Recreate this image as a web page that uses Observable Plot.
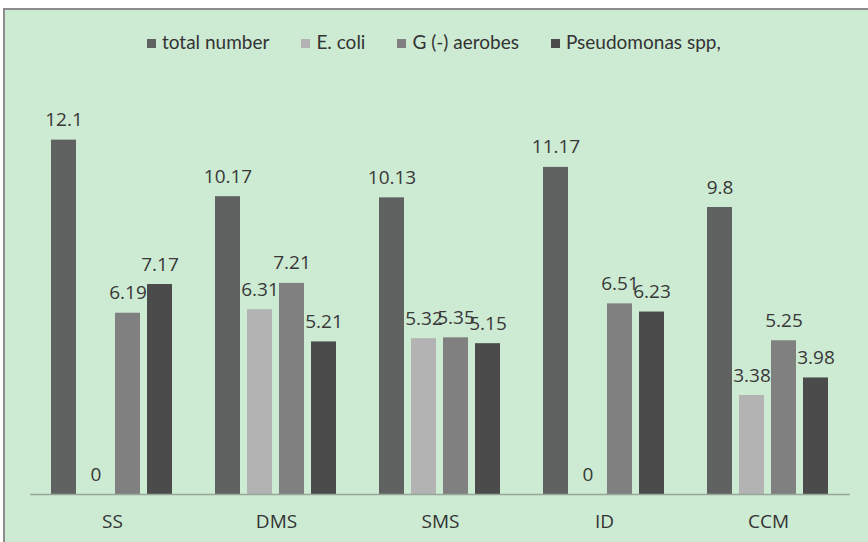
<!DOCTYPE html>
<html>
<head>
<meta charset="utf-8">
<script src="https://cdn.jsdelivr.net/npm/d3@7"></script>
<script src="https://cdn.jsdelivr.net/npm/@observablehq/plot@0.6"></script>
<style>
  html, body { margin: 0; padding: 0; background: #ffffff; }
  body { width: 868px; height: 542px; position: relative; overflow: hidden; }
  #frame { position: absolute; left: 3px; top: 8px; width: 865px; height: 534px;
    background: #cdead3; border-left: 2px solid #8c8c8c; border-top: 2px solid #8c8c8c; box-sizing: border-box; }
  #legend { position: absolute; left: 147px; top: 32px; display: flex; gap: 32px;
    font-family: Lato, "Open Sans", sans-serif; font-size: 19px; line-height: 20px; color: #333; white-space: nowrap; }
  #legend .item { display: flex; align-items: center; gap: 6px; }
  #legend .sw { width: 9px; height: 9px; display: inline-block; margin-top: 3px; }
  #chart { position: absolute; left: 0; top: 50px; }
</style>
</head>
<body>
<div id="frame"></div>
<div id="legend"></div>
<div id="chart"></div>
<script>
const categories = ["SS", "DMS", "SMS", "ID", "CCM"];
const series = ["total number", "E. coli", "G (-) aerobes", "Pseudomonas spp,"];
const totalNumber = [12.1, 10.17, 10.13, 11.17, 9.8];
const eColi = [0, 6.31, 5.32, 0, 3.38];
const gAerobes = [6.19, 7.21, 5.35, 6.51, 5.25];
const pseudomonas = [7.17, 5.21, 5.15, 6.23, 3.98];
const colors = ["#606262", "#b3b3b3", "#808080", "#4b4b4b"];

const seriesValues = [totalNumber, eColi, gAerobes, pseudomonas];
const rows = [];
categories.forEach((c, i) => {
  series.forEach((s, j) => {
    rows.push({category: c, series: s, value: seriesValues[j][i]});
  });
});

// legend
const legend = document.getElementById("legend");
series.forEach((s, j) => {
  const item = document.createElement("div");
  item.className = "item";
  const sw = document.createElement("span");
  sw.className = "sw";
  sw.style.background = colors[j];
  const t = document.createElement("span");
  t.textContent = s;
  item.appendChild(sw);
  item.appendChild(t);
  legend.appendChild(item);
});

const chart = Plot.plot({
  width: 868,
  height: 492,
  marginLeft: 30,
  marginRight: 18,
  marginTop: 34,
  marginBottom: 48,
  style: {background: "transparent", fontFamily: "'Open Sans', sans-serif", fontSize: "19px", color: "#333"},
  fx: {domain: categories, paddingInner: 40 / 164, paddingOuter: 20 / 164, label: null, tickSize: 0, tickPadding: 20, axis: "bottom"},
  x: {domain: series, paddingInner: 0.21, paddingOuter: 0, axis: null},
  y: {domain: [0, 14], axis: null},
  color: {domain: series, range: colors},
  marks: [
    Plot.barY(rows, {fx: "category", x: "series", y: "value", fill: "series"}),
    Plot.ruleY([0], {stroke: "#98a69a", strokeWidth: 1.5, insetLeft: -20, insetRight: -20}),
    Plot.text(rows, {fx: "category", x: "series", y: "value", text: d => String(d.value),
      lineAnchor: "bottom", dy: -14, fill: "#383838", fontSize: 19})
  ]
});
document.getElementById("chart").appendChild(chart);
</script>
</body>
</html>
